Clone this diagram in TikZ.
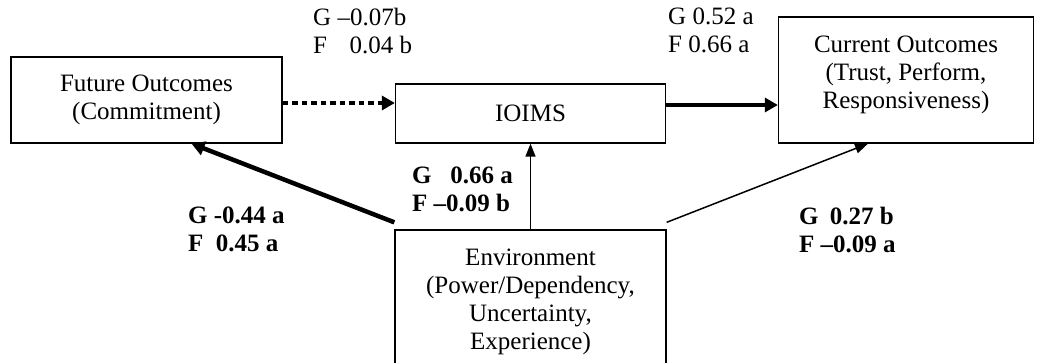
\documentclass[tikz,border=0pt]{standalone}
\usepackage{fontspec}
\setmainfont{Liberation Serif}
\usetikzlibrary{arrows.meta}
\begin{document}
\begin{tikzpicture}[x=1pt,y=-1pt,
  box/.style={draw, line width=1.3pt, inner sep=0pt},
  txt/.style={align=center, inner sep=0pt, font=\fontsize{25}{28}\selectfont},
  lbl/.style={align=left, inner sep=0pt, font=\fontsize{25}{28}\selectfont},
  blbl/.style={align=left, inner sep=0pt, font=\fontsize{25}{28}\selectfont\bfseries},
  thick arrow/.style={line width=4.5pt, -{Triangle[length=13pt,width=14pt]}},
  thin arrow/.style={line width=1.5pt, -{Triangle[length=13pt,width=10pt]}},
  dotted arrow/.style={line width=4.5pt, dash pattern=on 5.5pt off 4pt, -{Triangle[length=13pt,width=14pt]}}
]
\path[use as bounding box] (0,0) rectangle (1039,363);
\begin{scope}
\clip (0,0) rectangle (1039,363);
\node[box, minimum width=271pt, minimum height=86pt] (fut) at (146.5,100) {};
\node[txt] (futtext) at (146.5,99.5) {Future Outcomes\\(Commitment)};
\node[box, minimum width=270pt, minimum height=59pt] (io) at (530.5,113.5) {};
\node[txt] (iotext) at (530.5,113.5) {IOIMS};
\node[box, minimum width=255pt, minimum height=126pt] (cur) at (906,80) {};
\node[txt] (curtext) at (906,75) {Current Outcomes\\(Trust, Perform,\\Responsiveness)};
\node[box, minimum width=271pt, minimum height=150pt] (env) at (530.5,305) {};
\node[txt] (envtext) at (530.5,301.5) {Environment\\(Power/Dependency,\\Uncertainty,\\Experience)};
\end{scope}

\draw[dotted arrow] ([yshift=-3pt]fut.east) -- ([yshift=-3pt]fut.east -| io.west);
\draw[thick arrow] ([yshift=8.5pt]io.east) -- ([yshift=8.5pt]io.east -| cur.west);
\draw[thin arrow] (env.north) -- (env.north |- io.south);
\draw[thick arrow] ([yshift=7pt]env.north west) -- ([xshift=45pt]fut.south);
\draw[thin arrow] ([yshift=7pt]env.north east) -- ([xshift=-38pt]cur.south);

\node[lbl, anchor=north west] (l1) at (313,8) {G –0.07b\\F\hspace{0.9em}0.04 b};
\node[lbl, anchor=north west] (l2) at (668,8) {G 0.52 a\\F 0.66 a};
\node[blbl, anchor=north west] (l3) at (412,167) {G\hspace{0.75em}0.66 a\\F –0.09 b};
\node[blbl, anchor=north west] (l4) at (188,207) {G -0.44 a\\F\hspace{0.5em}0.45 a};
\node[blbl, anchor=north west] (l5) at (799,207) {G\hspace{0.45em}0.27 b\\F –0.09 a};
\end{tikzpicture}
\end{document}
